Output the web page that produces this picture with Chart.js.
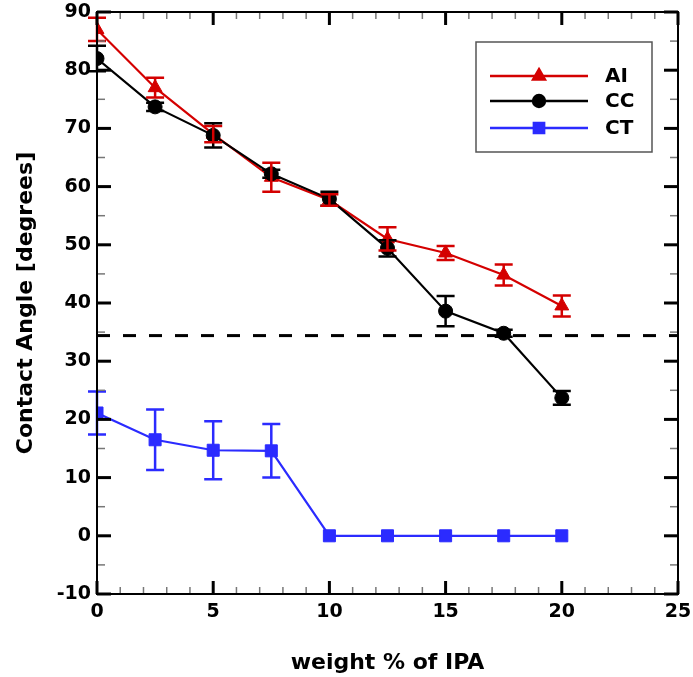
<!DOCTYPE html>
<html>
<head>
<meta charset="utf-8">
<script src="https://cdn.jsdelivr.net/npm/chart.js@4"></script>
<style>
  html, body { margin: 0; padding: 0; background: #fff; }
  #wrap { width: 693px; height: 677px; }
</style>
</head>
<body>
<div id="wrap"><canvas id="myChart" width="693" height="677"></canvas></div>
<script>
const ipa = [0, 2.5, 5, 7.5, 10, 12.5, 15, 17.5, 20];
const ai = [87, 77, 69, 61.6, 57.7, 51, 48.6, 44.8, 39.5];
const aiErr = [2, 1.7, 1.4, 2.5, 1, 2, 1.2, 1.8, 1.8];
const cc = [82, 73.7, 68.8, 62.2, 57.9, 49.4, 38.6, 34.8, 23.7];
const ccErr = [2.2, 0.7, 2.1, 0.7, 1.2, 1.4, 2.6, 0.6, 1.2];
const ct = [21.1, 16.5, 14.7, 14.6, 0, 0, 0, 0, 0];
const ctErr = [3.7, 5.2, 5, 4.6, 0, 0, 0, 0, 0];
const dashLevel = 34.4;
const xTicks = [0, 5, 10, 15, 20, 25];
const yTicks = [-10, 0, 10, 20, 30, 40, 50, 60, 70, 80, 90];

const FONT = 'DejaVu Sans';

function pts(ys) {
  return ipa.map((x, i) => ({ x: x, y: ys[i] }));
}

const dados = {
  datasets: [
    {
      label: 'CC', data: pts(cc), errors: ccErr, order: 1,
      borderColor: '#000', backgroundColor: '#000', borderWidth: 2.2,
      pointStyle: 'circle', pointRadius: 7, pointBorderWidth: 1
    },
    {
      label: 'AI', data: pts(ai), errors: aiErr, order: 2,
      borderColor: '#d40000', backgroundColor: '#d40000', borderWidth: 2.2,
      pointStyle: 'triangle', pointRadius: 8, pointBorderWidth: 1
    },
    {
      label: 'CT', data: pts(ct), errors: ctErr, order: 3,
      borderColor: '#2b2bff', backgroundColor: '#2b2bff', borderWidth: 2.2,
      pointStyle: 'rect', pointRadius: 8.5, pointBorderWidth: 1
    },
    {
      label: 'limit', data: [{ x: 0, y: dashLevel }, { x: 25, y: dashLevel }], order: 4,
      borderColor: '#000', borderWidth: 3, borderDash: [13, 13], pointRadius: 0
    }
  ]
};

// barras de erro
const errorBars = {
  id: 'errorBars',
  afterDatasetsDraw(chart) {
    const ctx = chart.ctx;
    const xs = chart.scales.x, ys = chart.scales.y;
    ctx.save();
    chart.data.datasets.forEach(ds => {
      if (!ds.errors) return;
      ctx.strokeStyle = ds.borderColor;
      ctx.lineWidth = 2.5;
      ds.data.forEach((p, i) => {
        const e = ds.errors[i];
        if (!e) return;
        const px = xs.getPixelForValue(p.x);
        const top = ys.getPixelForValue(p.y + e);
        const bot = ys.getPixelForValue(p.y - e);
        ctx.beginPath();
        ctx.moveTo(px, top); ctx.lineTo(px, bot);
        ctx.moveTo(px - 9, top); ctx.lineTo(px + 9, top);
        ctx.moveTo(px - 9, bot); ctx.lineTo(px + 9, bot);
        ctx.stroke();
      });
    });
    ctx.restore();
  }
};

// moldura e marcas para dentro
const frame = {
  id: 'frame',
  afterDraw(chart) {
    const ctx = chart.ctx;
    const a = chart.chartArea;
    const xs = chart.scales.x, ys = chart.scales.y;
    ctx.save();
    function tick(x1, y1, x2, y2, w, c) {
      ctx.lineWidth = w; ctx.strokeStyle = c;
      ctx.beginPath(); ctx.moveTo(x1, y1); ctx.lineTo(x2, y2); ctx.stroke();
    }
    for (let v = 0; v <= 25; v += 1) {
      const px = xs.getPixelForValue(v);
      const major = v % 5 === 0;
      const len = major ? 13 : 7;
      const w = major ? 3 : 1.5;
      const c = major ? '#000' : '#777';
      tick(px, a.bottom, px, a.bottom - len, w, c);
      tick(px, a.top, px, a.top + len, w, c);
    }
    for (let v = -10; v <= 90; v += 5) {
      const py = ys.getPixelForValue(v);
      const major = v % 10 === 0;
      const len = major ? 14 : 8;
      const w = major ? 3 : 1.5;
      const c = major ? '#000' : '#777';
      tick(a.left, py, a.left + len, py, w, c);
      tick(a.right, py, a.right - len, py, w, c);
    }
    ctx.lineWidth = 2;
    ctx.strokeStyle = '#000';
    ctx.strokeRect(a.left, a.top, a.right - a.left, a.bottom - a.top);
    ctx.restore();
  }
};

// legenda desenhada dentro do grafico
const legendBox = {
  id: 'legendBox',
  afterDraw(chart) {
    const ctx = chart.ctx;
    ctx.save();
    ctx.strokeStyle = '#555';
    ctx.lineWidth = 1.5;
    ctx.strokeRect(476, 42, 176, 110);
    const rows = [['AI', 76], ['CC', 101], ['CT', 128]];
    rows.forEach(([name, y]) => {
      const ds = chart.data.datasets.find(d => d.label === name);
      ctx.strokeStyle = ds.borderColor;
      ctx.lineWidth = 2.5;
      ctx.beginPath(); ctx.moveTo(490, y); ctx.lineTo(588, y); ctx.stroke();
      ctx.fillStyle = ds.backgroundColor;
      Chart.helpers.drawPoint(ctx, {
        pointStyle: ds.pointStyle, radius: ds.pointRadius * 0.85, rotation: 0, borderWidth: 1
      }, 539, y);
      ctx.fillStyle = '#000';
      ctx.font = 'bold 20px "' + FONT + '"';
      ctx.textBaseline = 'middle';
      ctx.fillText(name, 605, y + 1);
    });
    ctx.restore();
  }
};

const config = {
  type: 'line',
  data: dados,
  options: {
    responsive: false,
    animation: false,
    layout: { padding: { left: 0, top: 12, right: 15, bottom: 0 } },
    scales: {
      x: {
        type: 'linear', min: 0, max: 25,
        afterFit(s) { s.height = 83; s.paddingLeft = 0; s.paddingRight = 0; },
        afterBuildTicks(s) { s.ticks = xTicks.map(v => ({ value: v })); },
        grid: { display: false, drawTicks: false },
        border: { display: false },
        ticks: { color: '#000', padding: 7, maxRotation: 0, font: { family: FONT, size: 19, weight: 'bold' } },
        title: { display: true, text: 'weight % of IPA', color: '#000', padding: { top: 0, bottom: 1 },
                 font: { family: FONT, size: 22, weight: 'bold' } }
      },
      y: {
        min: -10, max: 90,
        afterFit(s) { s.width = 97; s.paddingTop = 0; s.paddingBottom = 0; },
        afterBuildTicks(s) { s.ticks = yTicks.map(v => ({ value: v })); },
        grid: { display: false, drawTicks: false },
        border: { display: false },
        ticks: { color: '#000', padding: 6, font: { family: FONT, size: 19, weight: 'bold' } },
        title: { display: true, text: 'Contact Angle [degrees]', color: '#000', padding: { top: 13, bottom: 0 },
                 font: { family: FONT, size: 22, weight: 'bold' } }
      }
    },
    plugins: {
      legend: { display: false },
      tooltip: { enabled: false }
    }
  },
  plugins: [errorBars, frame, legendBox]
};

window.onload = function() {
  const ctx = document.getElementById('myChart').getContext('2d');
  new Chart(ctx, config);
};
</script>
</body>
</html>
